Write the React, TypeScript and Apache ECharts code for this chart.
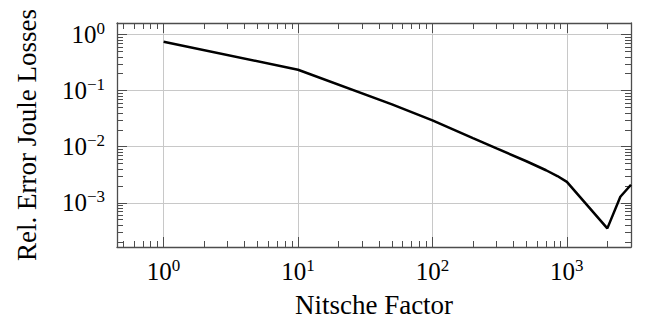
import React, { useEffect, useRef } from "react";
import * as echarts from "echarts";

const nitscheFactor = [1, 10, 50, 100, 200, 300, 500, 700, 850, 1000, 2000, 2500, 3000];
const relError = [0.74, 0.235, 0.0566, 0.0295, 0.0142, 0.0093, 0.0055, 0.0038, 0.003, 0.00236, 0.00035, 0.00128, 0.0021];

const xMajorTicks = [1, 10, 100, 1000];
const yMajorTicks = [1e-3, 1e-2, 1e-1, 1];
const xRange = [0.45, 3000];
const yRange = [1.63e-4, 1.6];

function minorValues(lo: number, hi: number): number[] {
  const out: number[] = [];
  for (let e = Math.floor(Math.log10(lo)); e <= Math.ceil(Math.log10(hi)); e++) {
    for (let m = 2; m <= 9; m++) {
      const v = m * Math.pow(10, e);
      if (v >= lo && v <= hi) out.push(v);
    }
  }
  return out;
}

const FONT = "'Liberation Serif', 'DejaVu Serif', serif";
const rich = {
  b: { fontSize: 25, fontFamily: FONT, color: "#000", lineHeight: 29 },
  s: { fontSize: 17, fontFamily: FONT, color: "#000", verticalAlign: "top", lineHeight: 17 },
};
function fmt(v: number) {
  const e = Math.round(Math.log10(v));
  const es = e < 0 ? "\u2212" + String(-e) : String(e);
  return "{b|10}{s|" + es + "}";
}

export default function App() {
  const ref = useRef<HTMLDivElement>(null);
  useEffect(() => {
    if (!ref.current) return;
    const chart = echarts.init(ref.current, undefined, { renderer: "svg" });
    const axisColor = "#4d4d4d";
    const mkX = (position: string, minor: boolean, main: boolean) => ({
      type: "log",
      logBase: 10,
      position,
      min: xRange[0],
      max: xRange[1],
      gridIndex: 0,
      axisLine: { show: main, onZero: false, lineStyle: { color: axisColor, width: 1.3 } },
      axisTick: {
        show: true,
        inside: true,
        length: minor ? 6 : 10,
        lineStyle: { color: axisColor, width: 1 },
        customValues: minor ? minorValues(xRange[0], xRange[1]) : xMajorTicks,
      },
      axisLabel: {
        show: main && position === "bottom",
        customValues: xMajorTicks,
        formatter: fmt,
        rich,
        margin: 10,
      },
      splitLine: { show: main && position === "bottom", lineStyle: { color: "#c8c8c8", width: 1 } },
      name: main && position === "bottom" ? "Nitsche Factor" : "",
      nameLocation: "middle",
      nameGap: 44,
      nameTextStyle: { fontSize: 27, fontFamily: FONT, color: "#000" },
    });
    const mkY = (position: string, minor: boolean, main: boolean) => ({
      type: "log",
      logBase: 10,
      position,
      min: yRange[0],
      max: yRange[1],
      gridIndex: 0,
      axisLine: { show: main, onZero: false, lineStyle: { color: axisColor, width: 1.3 } },
      axisTick: {
        show: true,
        inside: true,
        length: minor ? 6 : 10,
        lineStyle: { color: axisColor, width: 1 },
        customValues: minor ? minorValues(yRange[0], yRange[1]) : yMajorTicks,
      },
      axisLabel: {
        show: main && position === "left",
        customValues: yMajorTicks,
        formatter: fmt,
        rich,
        margin: 12,
      },
      splitLine: { show: main && position === "left", lineStyle: { color: "#c8c8c8", width: 1 } },
      name: main && position === "left" ? "Rel. Error Joule Losses" : "",
      nameLocation: "middle",
      nameGap: 77,
      nameRotate: 90,
      nameTextStyle: { fontSize: 27, fontFamily: FONT, color: "#000" },
    });
    chart.setOption({
      animation: false,
      backgroundColor: "#fff",
      grid: { left: 117, right: 15, top: 23, bottom: 74, containLabel: false },
      xAxis: [mkX("bottom", false, true), mkX("bottom", true, false), mkX("top", false, true), mkX("top", true, false)],
      yAxis: [mkY("left", false, true), mkY("left", true, false), mkY("right", false, true), mkY("right", true, false)],
      series: [
        {
          type: "line",
          xAxisIndex: 0,
          yAxisIndex: 0,
          data: nitscheFactor.map((x, i) => [x, relError[i]]),
          showSymbol: false,
          lineStyle: { color: "#000", width: 2.5 },
          clip: true,
        },
      ],
    });
    return () => chart.dispose();
  }, []);
  return <div ref={ref} style={{ position: "fixed", left: 0, top: 0, width: 646, height: 323 }} />;
}
